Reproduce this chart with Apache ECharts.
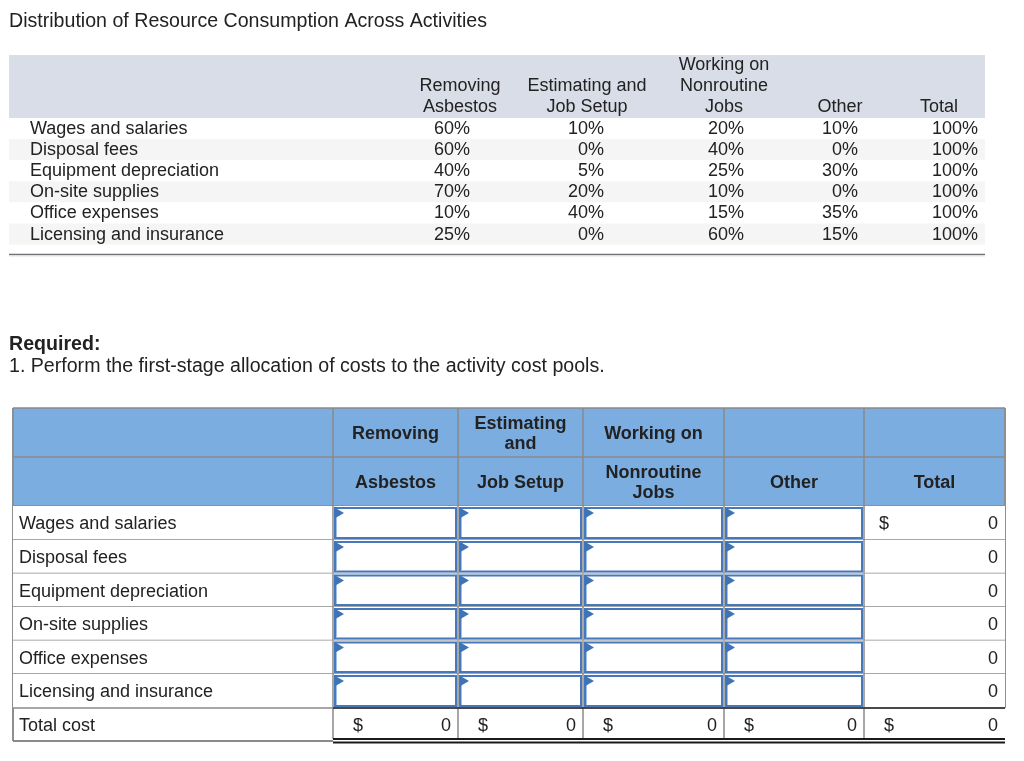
<!DOCTYPE html>
<html>
<head>
<meta charset="utf-8">
<script src="https://cdn.jsdelivr.net/npm/echarts@6/dist/echarts.min.js"></script>
<style>
html,body{margin:0;padding:0;background:#fff;}
#chart{width:1024px;height:761px;}
</style>
</head>
<body>
<div id="chart"></div>
<script>
// ---------- DATA ----------
const chartTitle = 'Distribution of Resource Consumption Across Activities';
const resources = ['Wages and salaries', 'Disposal fees', 'Equipment depreciation', 'On-site supplies', 'Office expenses', 'Licensing and insurance'];
const topHeaders = [['Removing', 'Asbestos'], ['Estimating and', 'Job Setup'], ['Working on', 'Nonroutine', 'Jobs'], ['Other'], ['Total']];
const removingAsbestos = [60, 60, 40, 70, 10, 25];
const estimatingJobSetup = [10, 0, 5, 20, 40, 0];
const workingNonroutine = [20, 40, 25, 10, 15, 60];
const otherActivity = [10, 0, 30, 0, 35, 15];
const totalPct = [100, 100, 100, 100, 100, 100];
const requiredHead = 'Required:';
const requiredText = '1. Perform the first-stage allocation of costs to the activity cost pools.';
const bottomHeadRow1 = ['Removing', 'Estimating\nand', 'Working on', '', ''];
const bottomHeadRow2 = ['Asbestos', 'Job Setup', 'Nonroutine\nJobs', 'Other', 'Total'];
const rowTotals = [0, 0, 0, 0, 0, 0];
const totalCostLabel = 'Total cost';
const totalCost = [0, 0, 0, 0, 0];

// ---------- LAYOUT ----------
const FONT = '"Liberation Sans", Arial, Helvetica, sans-serif';
const FS = 18;
const TXT = '#222222';
const TOP = { left: 9, right: 985, headTop: 55, headBottom: 118, rowH: 21.1, labelX: 30, ruleY: 254.5, headLineBottom: 107.5, headLineStep: 21 };
const topHeadX = [460, 587, 724, 840, 939];
const topValAnchor = [[452, 'center'], [604, 'right'], [726, 'center'], [858, 'right'], [978, 'right']];
const colEdges = [13, 333, 458, 583, 724, 864, 1005];
const rowEdges = [408, 457, 506, 540, 573.5, 607, 640.5, 674, 708, 741];

function txt(p, s, o) {
  o = o || {};
  return {
    type: 'text', x: p[0], y: p[1],
    style: {
      text: s, fontSize: o.size || FS, fontFamily: FONT, fontWeight: o.weight || 'normal',
      fill: o.fill || TXT, align: o.align || 'left', verticalAlign: 'middle', lineHeight: o.lh || 20
    }
  };
}
function rectEl(c, x0, y0, x1, y1, style) {
  const a = c(x0, y0), b = c(x1, y1);
  return { type: 'rect', shape: { x: a[0], y: a[1], width: b[0] - a[0], height: b[1] - a[1] }, style: style };
}
function lineEl(c, x0, y0, x1, y1, stroke, w) {
  const a = c(x0, y0), b = c(x1, y1);
  return { type: 'line', shape: { x1: a[0], y1: a[1], x2: b[0], y2: b[1] }, style: { stroke: stroke, lineWidth: w } };
}
const mk = api => (x, y) => api.coord([x, y]);

// Top table header + titles
function renderTopHeader(params, api) {
  const c = mk(api);
  const ch = [];
  ch.push(txt(c(9, 22), chartTitle, { size: 19.6 }));
  ch.push(rectEl(c, TOP.left, TOP.headTop, TOP.right, TOP.headBottom, { fill: '#d9dde7' }));
  topHeaders.forEach((lines, k) => {
    const n = lines.length;
    lines.forEach((ln, j) => {
      const y = TOP.headLineBottom - (n - 1 - j) * TOP.headLineStep;
      ch.push(txt(c(topHeadX[k], y), ln, { align: 'center' }));
    });
  });
  ch.push(lineEl(c, TOP.left, TOP.ruleY, TOP.right, TOP.ruleY, '#6f7378', 1.5));
  ch.push(lineEl(c, TOP.left, TOP.ruleY + 1.5, TOP.right, TOP.ruleY + 1.5, '#dfe3ea', 1));
  ch.push(txt(c(9, 344.5), requiredHead, { weight: 'bold', size: 19.6 }));
  ch.push(txt(c(9, 367), requiredText, { size: 19.6 }));
  return { type: 'group', children: ch };
}

// Top table rows
function renderTopRow(params, api) {
  const c = mk(api);
  const i = params.dataIndex;
  const y0 = TOP.headBottom + i * TOP.rowH, y1 = y0 + TOP.rowH, ym = (y0 + y1) / 2 + 0.5;
  const ch = [];
  ch.push(rectEl(c, TOP.left, y0, TOP.right, y1, { fill: i % 2 ? '#f5f5f6' : '#ffffff' }));
  ch.push(txt(c(TOP.labelX, ym), resources[i]));
  const vals = [api.value(1), api.value(2), api.value(3), api.value(4), api.value(5)];
  vals.forEach((v, k) => {
    ch.push(txt(c(topValAnchor[k][0], ym), v + '%', { align: topValAnchor[k][1] }));
  });
  return { type: 'group', children: ch };
}

// Bottom table header
function renderBottomHeader(params, api) {
  const c = mk(api);
  const ch = [];
  const grid = '#8a8a8a';
  ch.push(rectEl(c, colEdges[0], rowEdges[0], colEdges[6], rowEdges[2], { fill: '#7badE1' }));
  for (let r = 0; r <= 2; r++) ch.push(lineEl(c, colEdges[0], rowEdges[r], colEdges[6], rowEdges[r], grid, 1.5));
  for (let k = 1; k < 6; k++) ch.push(lineEl(c, colEdges[k], rowEdges[0], colEdges[k], rowEdges[2], grid, 1.5));
  for (let k = 0; k < 5; k++) {
    const xm = (colEdges[k + 1] + colEdges[k + 2]) / 2;
    if (bottomHeadRow1[k]) ch.push(txt(c(xm, (rowEdges[0] + rowEdges[1]) / 2 + 1.5), bottomHeadRow1[k], { weight: 'bold', align: 'center', lh: 20.5 }));
    ch.push(txt(c(xm, (rowEdges[1] + rowEdges[2]) / 2 + 1.5), bottomHeadRow2[k], { weight: 'bold', align: 'center', lh: 20.5 }));
  }
  ch.push(lineEl(c, colEdges[0], rowEdges[0], colEdges[0], rowEdges[9], '#8f8f8f', 2));
  ch.push(lineEl(c, colEdges[6], rowEdges[0], colEdges[6], rowEdges[8], '#8f8f8f', 2));
  return { type: 'group', children: ch };
}

// Bottom table body rows
function renderBottomRow(params, api) {
  const c = mk(api);
  const i = params.dataIndex;
  const y0 = rowEdges[2 + i], y1 = rowEdges[3 + i], ym = (y0 + y1) / 2 + 1.5;
  const ch = [];
  const grid = '#8a8a8a';
  ch.push(rectEl(c, colEdges[0], y0, colEdges[6], y1, { fill: '#ffffff' }));
  ch.push(lineEl(c, colEdges[0], y1, colEdges[6], y1, grid, 1.5));
  for (let k = 1; k < 6; k++) ch.push(lineEl(c, colEdges[k], y0, colEdges[k], y1, grid, 1.5));
  ch.push(txt(c(19, ym), resources[i]));
  for (let k = 1; k <= 4; k++) {
    const x0 = colEdges[k], x1 = colEdges[k + 1];
    ch.push(rectEl(c, x0 + 2, y0 + 2, x1 - 2, y1 - 2, { fill: '#ffffff', stroke: '#4678bb', lineWidth: 2 }));
    ch.push(lineEl(c, x0 + 3.5, y0 + 3, x0 + 3.5, y1 - 3, '#9fc0e6', 1));
    const p1 = c(x0 + 1.5, y0 + 1.5), p2 = c(x0 + 11, y0 + 7), p3 = c(x0 + 1.5, y0 + 12.5);
    ch.push({ type: 'polygon', shape: { points: [p1, p2, p3] }, style: { fill: '#3f73b8' } });
  }
  if (i === 0) ch.push(txt(c(colEdges[5] + 15, ym), '$'));
  ch.push(txt(c(colEdges[6] - 7, ym), String(api.value(1)), { align: 'right' }));
  return { type: 'group', children: ch };
}

// Total cost row
function renderTotalRow(params, api) {
  const c = mk(api);
  const y0 = rowEdges[8], y1 = rowEdges[9], ym = (y0 + y1) / 2 + 1.5;
  const ch = [];
  const grid = '#8a8a8a';
  ch.push(txt(c(19, ym), totalCostLabel));
  ch.push(lineEl(c, colEdges[0], y1, colEdges[1], y1, grid, 2));
  for (let k = 1; k < 6; k++) ch.push(lineEl(c, colEdges[k], y0, colEdges[k], y1 - 2, grid, 1.5));
  ch.push(lineEl(c, colEdges[1], y0, colEdges[6], y0, '#2a2a2a', 1.5));
  ch.push(lineEl(c, colEdges[1], y1 - 2, colEdges[6], y1 - 2, '#1a1a1a', 2));
  ch.push(lineEl(c, colEdges[1], y1 + 1.5, colEdges[6], y1 + 1.5, '#1a1a1a', 2));
  for (let k = 0; k < 5; k++) {
    const x0 = colEdges[k + 1], x1 = colEdges[k + 2];
    ch.push(txt(c(x0 + 20, ym), '$'));
    ch.push(txt(c(x1 - 7, ym), String(api.value(k + 1)), { align: 'right' }));
  }
  return { type: 'group', children: ch };
}

const chart = echarts.init(document.getElementById('chart'), null, { renderer: 'canvas' });
chart.setOption({
  animation: false,
  backgroundColor: '#ffffff',
  grid: { left: 0, right: 0, top: 0, bottom: 0 },
  xAxis: { type: 'value', min: 0, max: 1024, show: false },
  yAxis: { type: 'value', min: 0, max: 761, inverse: true, show: false },
  series: [
    { type: 'custom', name: 'topHeader', clip: false, data: [[0]], renderItem: renderTopHeader },
    { type: 'custom', name: 'topRows', clip: false,
      data: resources.map((r, i) => [i, removingAsbestos[i], estimatingJobSetup[i], workingNonroutine[i], otherActivity[i], totalPct[i]]),
      renderItem: renderTopRow },
    { type: 'custom', name: 'bottomHeader', clip: false, data: [[0]], renderItem: renderBottomHeader },
    { type: 'custom', name: 'bottomRows', clip: false,
      data: resources.map((r, i) => [i, rowTotals[i]]), renderItem: renderBottomRow },
    { type: 'custom', name: 'totalRow', clip: false, data: [[0].concat(totalCost)], renderItem: renderTotalRow }
  ]
});
</script>
</body>
</html>
